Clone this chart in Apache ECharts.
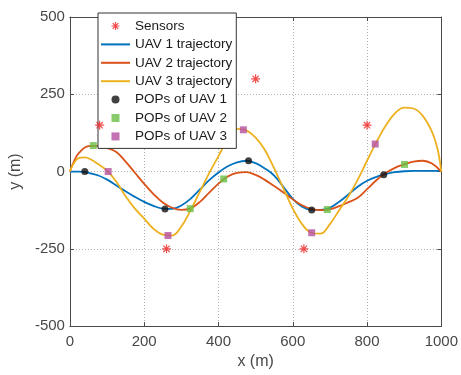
<!DOCTYPE html>
<html>
<head>
<meta charset="utf-8">
<script src="https://cdn.jsdelivr.net/npm/echarts@6/dist/echarts.min.js"></script>
<style>
html,body{margin:0;padding:0;background:#fff;}
#chart{width:461px;height:375px;}
</style>
</head>
<body>
<div id="chart"></div>
<script>
// ---- data ----
const sensors = [[80,150],[260,-250],[500,300],[630,-250],[800,150]];

const uav1Traj = [[0,0],[25,0],[50,-4],[75,-12],[100,-26],[125,-45],[150,-64],[175,-82],[200,-98],[225,-111],[250,-120],[275,-121],[300,-110],[325,-88],[350,-58],[375,-28],[400,-3],[425,17],[450,30],[475,35],[500,27],[525,10],[550,-13],[575,-50],[600,-88],[625,-114],[650,-124],[675,-124],[700,-117],[725,-98],[750,-74],[775,-49],[800,-30],[825,-17],[850,-8],[875,-2],[900,1],[925,2],[950,2],[975,2],[1000,2]];

const uav2Traj = [[0,0],[12,36],[25,61],[50,82],[75,83],[100,76],[125,63],[150,32],[175,-4],[200,-40],[225,-73],[250,-100],[275,-117],[300,-124],[325,-119],[350,-98],[375,-68],[400,-39],[425,-16],[450,-4],[475,-2],[500,-11],[525,-27],[550,-47],[575,-68],[600,-90],[625,-109],[650,-121],[675,-125],[700,-122],[725,-112],[750,-99],[775,-85],[800,-57],[825,-28],[850,-5],[875,12],[900,23],[925,32],[950,35],[975,26],[1000,0]];

const uav3Traj = [[0,0],[12,30],[25,44],[40,46],[55,40],[75,25],[100,3],[125,-33],[150,-80],[175,-120],[200,-152],[225,-185],[250,-204],[275,-207],[300,-178],[325,-125],[350,-65],[375,-5],[400,50],[425,105],[450,138],[475,133],[500,110],[525,70],[550,10],[575,-55],[600,-120],[625,-170],[650,-198],[675,-201],[700,-170],[725,-125],[750,-80],[775,-26],[800,35],[825,95],[850,148],[875,188],[900,207],[925,204],[950,180],[975,128],[990,72],[1000,0]];

const pops1 = [[40,0],[256,-121],[481,35],[651,-124],[845,-10]];
const pops2 = [[63,84],[324,-120],[414,-24],[693,-123],[901,23]];
const pops3 = [[103,0],[264,-207],[467,135],[651,-198],[822,89]];

const xTicks = {min:0, max:1000, interval:200};
const yTicks = {min:-500, max:500, interval:250};

const legendNames = ['Sensors','UAV 1 trajectory','UAV 2 trajectory','UAV 3 trajectory','POPs of UAV 1','POPs of UAV 2','POPs of UAV 3'];

// ---- chart ----
const FONT = 'Liberation Sans, Arial, sans-serif';
const AX = '#4a4a4a';
const TXT = '#484848';
const C_SENSOR = '#ee2222', C1 = '#0072BD', C2 = '#D95319', C3 = '#EDB120';
const C_P1 = '#111111', C_P2 = '#6CBE45', C_P3 = '#B5509F';
const chart = echarts.init(document.getElementById('chart'), null, {renderer:'canvas'});

const starPath = 'path://M5,0 L5,10 M0,5 L10,5 M1.5,1.5 L8.5,8.5 M1.5,8.5 L8.5,1.5';
const squarePath = 'path://M0,0 L10,0 L10,10 L0,10 Z';

function mainAxis(extra){
  return Object.assign({
    type:'value',
    axisLine:{show:true, onZero:false, lineStyle:{color:AX, width:1}},
    axisTick:{show:true, inside:true, length:4, lineStyle:{color:AX}},
    splitLine:{show:true, lineStyle:{color:'#b0b0b0', type:[1,2], width:1}},
    nameTextStyle:{color:TXT, fontSize:16, fontFamily:FONT},
  }, extra);
}
function boxAxis(extra){
  return Object.assign({
    type:'value',
    axisLine:{show:true, onZero:false, lineStyle:{color:AX, width:1}},
    axisTick:{show:true, inside:true, length:4, lineStyle:{color:AX}},
    axisLabel:{show:false},
    splitLine:{show:false}
  }, extra);
}

const lineCommon = {type:'line', smooth:0.4, showSymbol:false, symbol:'none', clip:true, silent:true, z:3};
const scatterCommon = {type:'scatter', silent:true, z:5};
const fmt = v => String(v);

chart.setOption({
  animation:false,
  backgroundColor:'#fff',
  grid:{left:62, right:19, top:17, bottom:48, containLabel:false},
  xAxis:[
    mainAxis(Object.assign({position:'bottom', name:'x (m)', nameLocation:'middle', nameGap:25,
      axisLabel:{color:TXT, fontSize:15, fontFamily:FONT, margin:8, formatter:fmt}}, xTicks)),
    boxAxis(Object.assign({position:'top'}, xTicks))
  ],
  yAxis:[
    mainAxis(Object.assign({position:'left', name:'y (m)', nameLocation:'middle', nameGap:40,
      axisLabel:{color:TXT, fontSize:15, fontFamily:FONT, margin:5, formatter:fmt}}, yTicks)),
    boxAxis(Object.assign({position:'right'}, yTicks))
  ],
  legend:{
    orient:'vertical', left:98, top:13,
    itemWidth:29, itemHeight:8, itemGap:4.4,
    padding:[6,4,5,2],
    backgroundColor:'#fff', borderColor:'#333', borderWidth:1, borderRadius:0,
    textStyle:{fontSize:13.5, color:'#1a1a1a', fontFamily:FONT},
    symbolKeepAspect:true,
    selectedMode:false,
    data:[
      {name:legendNames[0], icon:starPath, itemStyle:{color:'none', borderColor:C_SENSOR, borderWidth:1.2}},
      {name:legendNames[1], itemStyle:{opacity:0}},
      {name:legendNames[2], itemStyle:{opacity:0}},
      {name:legendNames[3], itemStyle:{opacity:0}},
      {name:legendNames[4], icon:'circle', itemStyle:{color:C_P1}},
      {name:legendNames[5], icon:squarePath, itemStyle:{color:C_P2}},
      {name:legendNames[6], icon:squarePath, itemStyle:{color:C_P3}}
    ]
  },
  series:[
    Object.assign({}, scatterCommon, {name:legendNames[0], data:sensors, symbol:starPath, symbolSize:9,
      itemStyle:{color:'none', borderColor:C_SENSOR, borderWidth:1.2}}),
    Object.assign({}, lineCommon, {name:legendNames[1], data:uav1Traj, lineStyle:{color:C1, width:1.8}, itemStyle:{color:C1}}),
    Object.assign({}, lineCommon, {name:legendNames[2], data:uav2Traj, lineStyle:{color:C2, width:1.8}, itemStyle:{color:C2}}),
    Object.assign({}, lineCommon, {name:legendNames[3], data:uav3Traj, lineStyle:{color:C3, width:1.8}, itemStyle:{color:C3}}),
    Object.assign({}, scatterCommon, {name:legendNames[4], data:pops1, symbol:'circle', symbolSize:7, itemStyle:{color:C_P1}}),
    Object.assign({}, scatterCommon, {name:legendNames[5], data:pops2, symbol:'rect', symbolSize:7, itemStyle:{color:C_P2}}),
    Object.assign({}, scatterCommon, {name:legendNames[6], data:pops3, symbol:'rect', symbolSize:7, itemStyle:{color:C_P3}})
  ]
});
</script>
</body>
</html>
